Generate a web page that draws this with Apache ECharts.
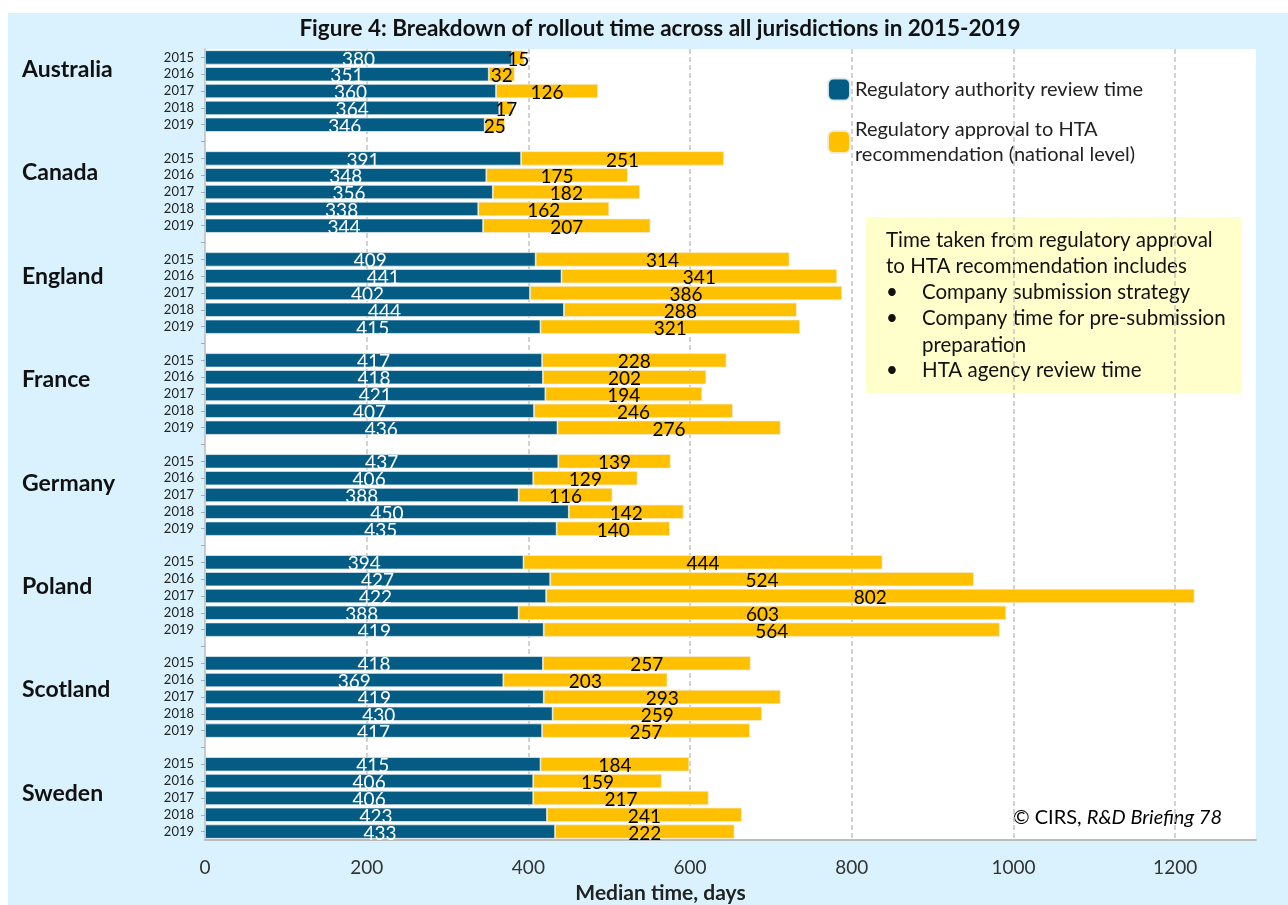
<!DOCTYPE html>
<html>
<head>
<meta charset="utf-8">
<script src="https://cdn.jsdelivr.net/npm/echarts@6/dist/echarts.min.js"></script>
<style>
  html, body { margin: 0; padding: 0; background: #ffffff; }
  #panel { position: absolute; left: 8px; top: 13px; width: 1280px; height: 892px; background: #d9f2fd; }
  #chart { position: absolute; left: 0; top: 0; width: 1288px; height: 905px; }
</style>
</head>
<body>
<div id="panel"></div>
<div id="chart"></div>
<script>
const countries = ['Australia', 'Canada', 'England', 'France', 'Germany', 'Poland', 'Scotland', 'Sweden'];
const years = ['2015', '2016', '2017', '2018', '2019'];
const reviewTime = {
  Australia: [380, 351, 360, 364, 346],
  Canada:    [391, 348, 356, 338, 344],
  England:   [409, 441, 402, 444, 415],
  France:    [417, 418, 421, 407, 436],
  Germany:   [437, 406, 388, 450, 435],
  Poland:    [394, 427, 422, 388, 419],
  Scotland:  [418, 369, 419, 430, 417],
  Sweden:    [415, 406, 406, 423, 433]
};
const htaTime = {
  Australia: [15, 32, 126, 17, 25],
  Canada:    [251, 175, 182, 162, 207],
  England:   [314, 341, 386, 288, 321],
  France:    [228, 202, 194, 246, 276],
  Germany:   [139, 129, 116, 142, 140],
  Poland:    [444, 524, 802, 603, 564],
  Scotland:  [257, 203, 293, 259, 257],
  Sweden:    [184, 159, 217, 241, 222]
};
const xTicks = [0, 200, 400, 600, 800, 1000, 1200];
const seriesNames = ['Regulatory authority review time', 'Regulatory approval to HTA\nrecommendation (national level)'];

// Build category rows (with a blank row between countries)
const cats = [], reviewData = [], htaData = [];
countries.forEach((c, ci) => {
  years.forEach((y, yi) => {
    cats.push(c + '|' + y);
    reviewData.push(reviewTime[c][yi]);
    htaData.push(htaTime[c][yi]);
  });
  if (ci < countries.length - 1) {
    cats.push('gap' + ci);
    reviewData.push('-');
    htaData.push('-');
  }
});

const FONT = 'Lato';
const BOX_FONT = '20.5px Lato';
const chart = echarts.init(document.getElementById('chart'), null, { renderer: 'canvas' });
chart.setOption({
  backgroundColor: 'transparent',
  textStyle: { fontFamily: FONT },
  animation: false,
  title: {
    text: 'Figure 4: Breakdown of rollout time across all jurisdictions in 2015-2019',
    left: 655, top: 12, textAlign: 'center',
    textStyle: { fontFamily: FONT, fontSize: 22.5, fontWeight: 'bold', color: '#111' }
  },
  legend: {
    orient: 'vertical', left: 822, top: 72,
    itemWidth: 22, itemHeight: 22, itemGap: 15, itemTextGap: 12,
    icon: 'roundRect',
    textStyle: { fontFamily: FONT, fontSize: 20, color: '#222', lineHeight: 25 },
    data: seriesNames
  },
  grid: [
    { left: 205, right: 32, top: 49, bottom: 65, show: true, backgroundColor: '#ffffff', borderWidth: 0,
      containLabel: false, outerBoundsMode: 'none' },
    { left: 205, right: 32, top: 18, bottom: 60, show: false, containLabel: false, outerBoundsMode: 'none' }
  ],
  xAxis: [
    {
      type: 'value', min: 0, max: 1300, interval: 200, gridIndex: 0,
      name: 'Median time, days', nameLocation: 'middle', nameGap: 43,
      nameTextStyle: { fontFamily: FONT, fontSize: 21, fontWeight: 'bold', color: '#222', padding: [0, 140, 0, 0] },
      axisLine: { show: true, lineStyle: { color: '#bcbcbc', width: 2 } },
      axisTick: { show: false },
      axisLabel: { fontFamily: FONT, fontSize: 19, color: '#333', margin: 18,
        formatter: v => (xTicks.indexOf(v) >= 0 ? String(v) : '') },
      splitLine: { show: true, showMinLine: false, showMaxLine: false,
        lineStyle: { color: '#c4c4c4', width: 1.5, type: [5, 3] } }
    },
    { type: 'value', gridIndex: 1, show: false, min: 0, max: 1 }
  ],
  yAxis: [
    {
      type: 'category', data: cats, inverse: true, gridIndex: 0,
      axisLine: { show: true, lineStyle: { color: '#bcbcbc', width: 1.5 } },
      axisTick: { show: true, alignWithLabel: true, length: 4, lineStyle: { color: '#aaa' } },
      axisLabel: { interval: 0, fontFamily: FONT, fontSize: 13, color: '#222', margin: 11,
        formatter: v => (v.indexOf('|') >= 0 ? v.split('|')[1] : '') },
      splitLine: { show: false }
    },
    {
      type: 'category', data: countries, inverse: true, gridIndex: 1,
      axisLine: { show: false }, axisTick: { show: false }, splitLine: { show: false },
      axisLabel: { interval: 0, fontFamily: FONT, fontSize: 23, fontWeight: 'bold', color: '#111',
        margin: 183, align: 'left' }
    }
  ],
  series: [
    {
      name: seriesNames[0], type: 'bar', stack: 'total', xAxisIndex: 0, yAxisIndex: 0,
      data: reviewData, barCategoryGap: '15%',
      itemStyle: { color: '#045c85', borderColor: 'rgba(230,238,242,0.9)', borderWidth: 0.8 },
      label: { show: true, position: 'inside', color: '#ffffff', fontFamily: FONT, fontSize: 19, offset: [0, 2] }
    },
    {
      name: seriesNames[1], type: 'bar', stack: 'total', xAxisIndex: 0, yAxisIndex: 0,
      data: htaData, barCategoryGap: '15%',
      itemStyle: { color: '#ffc000', borderColor: 'rgba(240,236,220,0.9)', borderWidth: 0.8 },
      label: { show: true, position: 'inside', color: '#000000', fontFamily: FONT, fontSize: 19, offset: [0, 2] }
    }
  ],
  graphic: [
    {
      type: 'group', left: 866, top: 217,
      children: [
        { type: 'rect', shape: { x: 0, y: 0, width: 376, height: 176 }, style: { fill: '#ffffcc' } },
        { type: 'text', x: 20, y: 23, style: { text: 'Time taken from regulatory approval', font: BOX_FONT, fill: '#111', verticalAlign: 'middle' } },
        { type: 'text', x: 20, y: 49, style: { text: 'to HTA recommendation includes', font: BOX_FONT, fill: '#111', verticalAlign: 'middle' } },
        { type: 'text', x: 20, y: 75, style: { text: '•', font: BOX_FONT, fill: '#111', verticalAlign: 'middle' } },
        { type: 'text', x: 56, y: 75, style: { text: 'Company submission strategy', font: BOX_FONT, fill: '#111', verticalAlign: 'middle' } },
        { type: 'text', x: 20, y: 101, style: { text: '•', font: BOX_FONT, fill: '#111', verticalAlign: 'middle' } },
        { type: 'text', x: 56, y: 101, style: { text: 'Company time for pre-submission', font: BOX_FONT, fill: '#111', verticalAlign: 'middle' } },
        { type: 'text', x: 56, y: 128, style: { text: 'preparation', font: BOX_FONT, fill: '#111', verticalAlign: 'middle' } },
        { type: 'text', x: 20, y: 153, style: { text: '•', font: BOX_FONT, fill: '#111', verticalAlign: 'middle' } },
        { type: 'text', x: 56, y: 153, style: { text: 'HTA agency review time', font: BOX_FONT, fill: '#111', verticalAlign: 'middle' } }
      ]
    },
    {
      type: 'text', right: 66, top: 808,
      style: {
        text: '{a|© CIRS, }{b|R&D Briefing 78}',
        rich: {
          a: { fontFamily: FONT, fontSize: 20, color: '#222' },
          b: { fontFamily: FONT, fontSize: 20, fontStyle: 'italic', color: '#222' }
        }
      }
    }
  ]
});
</script>
</body>
</html>
